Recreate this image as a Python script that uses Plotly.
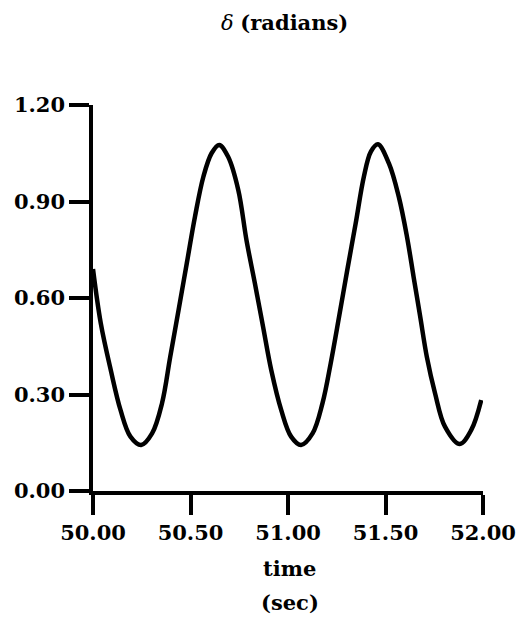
import plotly.graph_objects as go

# Data (time in sec, delta in radians)
time = [50.000, 50.040, 50.091, 50.141, 50.192, 50.247, 50.303, 50.354, 50.396, 50.439,
        50.481, 50.523, 50.566, 50.608, 50.647, 50.693, 50.745, 50.787, 50.830, 50.872,
        50.914, 50.965, 51.016, 51.067, 51.126, 51.177, 51.219, 51.262, 51.304, 51.347,
        51.389, 51.425, 51.461, 51.517, 51.568, 51.610, 51.644, 51.678, 51.712, 51.754,
        51.805, 51.881, 51.940, 51.991]
delta = [0.690, 0.521, 0.376, 0.252, 0.169, 0.143, 0.179, 0.273, 0.417, 0.563,
         0.708, 0.853, 0.977, 1.050, 1.076, 1.039, 0.936, 0.780, 0.646, 0.511,
         0.376, 0.252, 0.169, 0.143, 0.179, 0.273, 0.397, 0.542, 0.687, 0.832,
         0.977, 1.055, 1.078, 1.019, 0.915, 0.791, 0.666, 0.542, 0.417, 0.304,
         0.200, 0.146, 0.190, 0.283]

x_ticks = [50.0, 50.5, 51.0, 51.5, 52.0]
x_ticklabels = ["50.00", "50.50", "51.00", "51.50", "52.00"]
y_ticks = [0.0, 0.3, 0.6, 0.9, 1.2]
y_ticklabels = ["0.00", "0.30", "0.60", "0.90", "1.20"]

title_text = "<i>δ</i> <b>(radians)</b>"
xlabel_line1 = "<b>time</b>"
xlabel_line2 = "<b>(sec)</b>"

FONT = "DejaVu Serif"
FS = 21

fig = go.Figure()
fig.add_trace(go.Scatter(
    x=time, y=delta, mode="lines",
    line=dict(color="black", width=4.5, shape="spline", smoothing=1.0),
    hoverinfo="skip", showlegend=False,
))

axis_common = dict(
    showgrid=False, zeroline=False, showline=True, linecolor="black", linewidth=3.5,
    ticks="outside", ticklen=20, tickwidth=3.5, tickcolor="black",
    tickfont=dict(family=FONT, size=FS, color="black", weight="bold"),
)

fig.update_xaxes(range=[50, 52], tickvals=x_ticks, ticktext=x_ticklabels, **axis_common)
fig.update_yaxes(range=[0, 1.2], tickvals=y_ticks, ticktext=y_ticklabels, **axis_common)

fig.update_layout(
    width=528, height=619,
    margin=dict(l=93, r=41, t=105, b=128),
    paper_bgcolor="white", plot_bgcolor="white",
    annotations=[
        dict(text=title_text, xref="paper", yref="paper", x=0.49, y=1.215,
             xanchor="center", yanchor="middle", showarrow=False,
             font=dict(family=FONT, size=FS, color="black")),
        dict(text=xlabel_line1, xref="paper", yref="paper", x=0.505, y=-0.20,
             xanchor="center", yanchor="middle", showarrow=False,
             font=dict(family=FONT, size=FS, color="black")),
        dict(text=xlabel_line2, xref="paper", yref="paper", x=0.505, y=-0.288,
             xanchor="center", yanchor="middle", showarrow=False,
             font=dict(family=FONT, size=FS, color="black")),
    ],
)

fig.write_html("out.html")
